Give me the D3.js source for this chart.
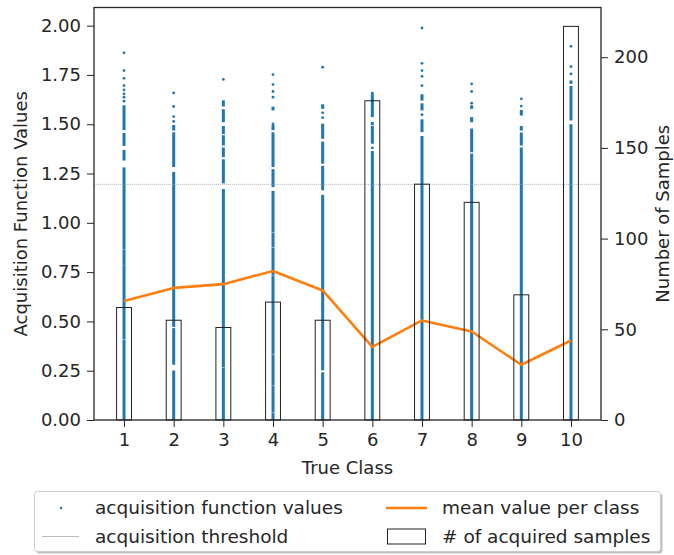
<!DOCTYPE html>
<html>
<head>
<meta charset="utf-8">
<script src="https://cdn.jsdelivr.net/npm/d3@7"></script>
<style>
    body { margin:0; background:white; }
    svg text { font-family: "DejaVu Sans", sans-serif; fill:#262626; }
</style>
</head>
<body>
<svg id="chart"></svg>
<script>

//classes on the x axis
var classes = [1,2,3,4,5,6,7,8,9,10];

//number of acquired samples per class (right axis)
var sampleCounts = [62,55,51,65,55,176,130,120,69,217];

//mean acquisition value per class (left axis)
var meanValues = [0.603,0.670,0.689,0.756,0.657,0.371,0.505,0.449,0.280,0.403];

//acquisition threshold
var threshold = 1.195;

//isolated acquisition values near the top of each column
var sparseValues = [
    [1.862,1.772,1.733,1.696,1.674,1.654,1.637,1.617],
    [1.659,1.590,1.539,1.514],
    [1.727],
    [1.752,1.701,1.666,1.637,1.502],
    [1.789,1.558,1.533],
    [1.657,1.380],
    [1.988,1.809,1.772,1.743,1.696,1.548],
    [1.705,1.666,1.607],
    [1.629,1.592],
    [1.895,1.792,1.755]
];

//value ranges where the points of a column overlap into a solid band
var denseRanges = [
    [[0,0.400],[0.408,0.775],[0.782,0.858],[0.865,1.275],[1.316,1.364],[1.39,1.45],[1.47,1.59]],
    [[0,0.245],[0.280,0.460],[0.472,1.252],[1.283,1.453],[1.468,1.49]],
    [[0,0.260],[0.268,1.165],[1.2,1.316],[1.333,1.376],[1.392,1.438],[1.45,1.485],[1.51,1.57],[1.59,1.615]],
    [[0,0.032],[0.040,0.166],[0.174,0.327],[0.335,0.724],[0.732,0.868],[0.876,0.943],[0.951,1.156],[1.181,1.266],[1.283,1.453],[1.47,1.49],[1.57,1.583]],
    [[0,0.236],[0.252,1.136],[1.165,1.283],[1.30,1.406],[1.426,1.497],[1.578,1.595]],
    [[0,1.358],[1.401,1.485],[1.495,1.505],[1.536,1.646]],
    [[0,1.434],[1.46,1.519],[1.57,1.60],[1.62,1.646]],
    [[0,1.345],[1.358,1.472],[1.51,1.53],[1.578,1.59]],
    [[0,1.376],[1.392,1.452],[1.468,1.485],[1.544,1.566]],
    [[0,1.494],[1.519,1.688],[1.705,1.716]]
];

//tick values
var leftTicks = [0,0.25,0.5,0.75,1.0,1.25,1.5,1.75,2.0];
var rightTicks = [0,50,100,150,200];

//legend entries
var legendLabels = ["acquisition function values","mean value per class",
                    "acquisition threshold","# of acquired samples"];


var initChart = function()
{
    var screen = {width:674, height:555};
    var margins = {top:7.5, bottom:135, left:94, right:73};
    var graph =
    {
        width:screen.width-margins.left-margins.right,
        height:screen.height-margins.top-margins.bottom
    };

    var svg = d3.select("svg#chart")
        .attr("width",screen.width)
        .attr("height",screen.height)
        .style("background-color","white");

    //scales
    var xScale = d3.scaleLinear()
        .domain([0.395,10.605])
        .range([0,graph.width]);

    var yScale = d3.scaleLinear()
        .domain([0,2.092])
        .range([graph.height,0]);

    var y2Scale = d3.scaleLinear()
        .domain([0,227.4])
        .range([graph.height,0]);

    var blue = "#1f77b4";
    var orange = "#ff7f0e";

    var g = svg.append("g")
        .attr("transform","translate("+margins.left+","+margins.top+")");

    //dense bands of scatter points
    var cols = g.append("g").classed("scatter",true)
        .selectAll("g")
        .data(classes)
        .enter()
        .append("g");

    cols.selectAll("rect")
        .data(function(c,i){ return denseRanges[i].map(function(r){ return {c:c, r:r}; }); })
        .enter()
        .append("rect")
        .attr("x",function(d){ return xScale(d.c)-1.5; })
        .attr("width",3)
        .attr("y",function(d){ return yScale(d.r[1])-1.2; })
        .attr("height",function(d){ return yScale(d.r[0])-yScale(d.r[1])+1.2; })
        .attr("fill",blue);

    cols.selectAll("circle")
        .data(function(c,i){ return sparseValues[i].map(function(v){ return {c:c, v:v}; }); })
        .enter()
        .append("circle")
        .attr("cx",function(d){ return xScale(d.c); })
        .attr("cy",function(d){ return yScale(d.v); })
        .attr("r",1.4)
        .attr("fill",blue);

    //threshold line
    g.append("line")
        .attr("x1",0)
        .attr("x2",graph.width)
        .attr("y1",yScale(threshold))
        .attr("y2",yScale(threshold))
        .attr("stroke","#a0a0a0")
        .attr("stroke-width",0.7)
        .attr("stroke-dasharray","1.2,0.8");

    //mean line
    var lineGenerator = d3.line()
        .x(function(d,i){ return xScale(classes[i]); })
        .y(function(d){ return yScale(d); });

    g.append("path")
        .datum(meanValues)
        .attr("d",lineGenerator)
        .attr("fill","none")
        .attr("stroke",orange)
        .attr("stroke-width",2.6)
        .attr("stroke-linejoin","round");

    //bars (right axis)
    g.append("g").classed("bars",true)
        .selectAll("rect")
        .data(sampleCounts)
        .enter()
        .append("rect")
        .attr("x",function(d,i){ return xScale(classes[i]-0.15); })
        .attr("width",xScale(0.3)-xScale(0))
        .attr("y",function(d){ return y2Scale(d); })
        .attr("height",function(d){ return graph.height-y2Scale(d); })
        .attr("fill","none")
        .attr("stroke","#222")
        .attr("stroke-width",1);

    //axes
    var fs = "18px";
    var leftAxis = d3.axisLeft(yScale)
        .tickValues(leftTicks)
        .tickFormat(d3.format(".2f"))
        .tickSize(7).tickPadding(6).tickSizeOuter(0);
    var rightAxis = d3.axisRight(y2Scale)
        .tickValues(rightTicks)
        .tickFormat(d3.format("d"))
        .tickSize(7).tickPadding(6).tickSizeOuter(0);
    var bottomAxis = d3.axisBottom(xScale)
        .tickValues(classes)
        .tickSize(7).tickPadding(6).tickSizeOuter(0);

    var axes = g.append("g").classed("axes",true);
    axes.append("g").call(leftAxis);
    axes.append("g")
        .attr("transform","translate("+graph.width+",0)")
        .call(rightAxis);
    axes.append("g")
        .attr("transform","translate(0,"+graph.height+")")
        .call(bottomAxis);

    axes.selectAll(".tick text")
        .style("font-size",fs)
        .style("font-family","DejaVu Sans")
        .attr("fill","#262626");
    axes.selectAll(".tick line").attr("stroke","#262626").attr("stroke-width",1);
    axes.selectAll(".domain").remove();

    //frame
    g.append("rect")
        .attr("width",graph.width)
        .attr("height",graph.height)
        .attr("fill","none")
        .attr("stroke","#262626")
        .attr("stroke-width",1.3);

    //labels
    var labels = svg.append("g").classed("labels",true)
        .style("font-size",fs);

    labels.append("text")
        .text("True Class")
        .attr("text-anchor","middle")
        .attr("x",margins.left+graph.width/2)
        .attr("y",474);

    labels.append("g")
        .attr("transform","translate(27,"+(margins.top+graph.height/2)+")")
        .append("text")
        .text("Acquisition Function Values")
        .attr("text-anchor","middle")
        .attr("transform","rotate(-90)");

    labels.append("g")
        .attr("transform","translate(669,"+(margins.top+graph.height/2)+")")
        .append("text")
        .text("Number of Samples")
        .attr("text-anchor","middle")
        .attr("transform","rotate(-90)");

    //legend
    var legend = svg.append("g").classed("legend",true);
    legend.append("rect")
        .attr("x",36.5).attr("y",493.5)
        .attr("width",626).attr("height",60)
        .attr("rx",3)
        .attr("fill","#000")
        .attr("opacity",0.25);
    legend.append("rect")
        .attr("x",34.5).attr("y",491.5)
        .attr("width",626).attr("height",60)
        .attr("rx",3)
        .attr("fill","white")
        .attr("stroke","#cccccc")
        .attr("stroke-width",1);

    var rows = [508,536.5];
    var colText = [95,442];

    legend.append("circle")
        .attr("cx",61).attr("cy",rows[0])
        .attr("r",1.2).attr("fill",blue);
    legend.append("line")
        .attr("x1",42).attr("x2",79)
        .attr("y1",rows[1]).attr("y2",rows[1])
        .attr("stroke","#a0a0a0").attr("stroke-width",0.7);
    legend.append("line")
        .attr("x1",386).attr("x2",427)
        .attr("y1",rows[0]).attr("y2",rows[0])
        .attr("stroke",orange).attr("stroke-width",2.6);
    legend.append("rect")
        .attr("x",387.5).attr("y",rows[1]-7.5)
        .attr("width",38).attr("height",15)
        .attr("fill","none").attr("stroke","#222").attr("stroke-width",1);

    legend.selectAll("text")
        .data(legendLabels)
        .enter()
        .append("text")
        .text(function(d){ return d; })
        .attr("x",function(d,i){ return colText[i%2]; })
        .attr("y",function(d,i){ return rows[Math.floor(i/2)]; })
        .attr("dy","0.35em")
        .style("font-size","18.5px");
};

initChart();
</script>
</body>
</html>
